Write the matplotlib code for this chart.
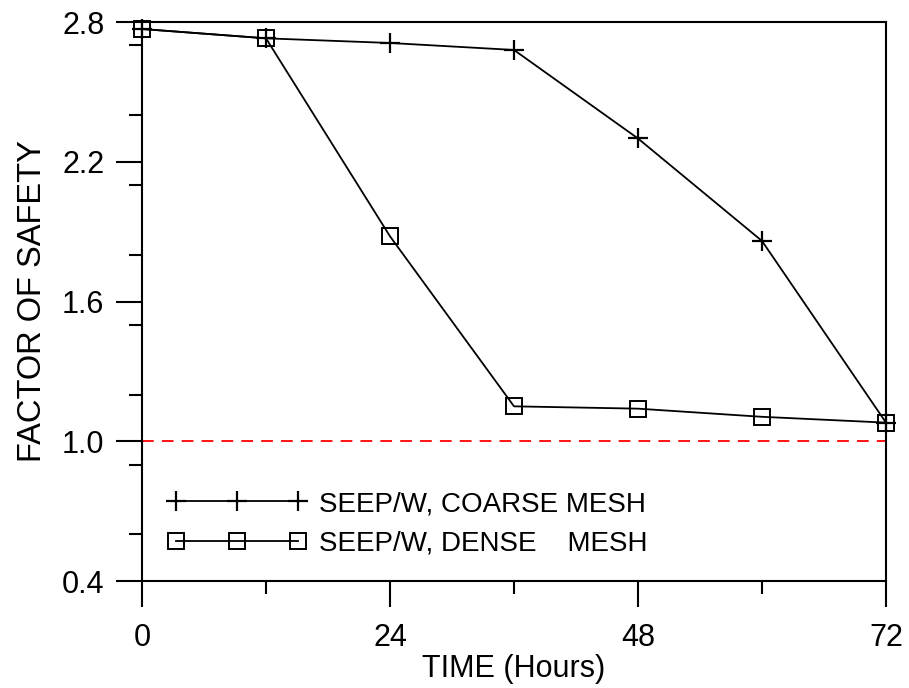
import matplotlib
matplotlib.use("Agg")
import matplotlib.pyplot as plt
from matplotlib.ticker import MultipleLocator

plt.rcParams['font.family'] = ['Liberation Sans', 'DejaVu Sans']

hours = [0, 12, 24, 36, 48, 60, 72]
fs_coarse = [2.77, 2.73, 2.71, 2.68, 2.30, 1.86, 1.08]
fs_dense = [2.77, 2.73, 1.88, 1.15, 1.14, 1.105, 1.08]
labels = ["SEEP/W, COARSE MESH", "SEEP/W, DENSE    MESH"]
xticks = [0, 24, 48, 72]
yticks = [0.4, 1.0, 1.6, 2.2, 2.8]

fig = plt.figure(figsize=(9.09, 6.88), dpi=100)
ax = fig.add_axes([0.1562, 0.1555, 0.8185, 0.8125])

ax.plot(hours, fs_coarse, color='black', lw=1.3, marker='+', ms=15, mew=1.6,
        clip_on=False, label=labels[0])
ax.plot(hours, fs_dense, color='black', lw=1.3, marker='s', ms=12, mew=1.4,
        mfc='none', clip_on=False, label=labels[1])
ax.axhline(1.0, color='red', lw=1.3, linestyle=(0, (6.5, 4.5)))

ax.set_xlim(0, 72)
ax.set_ylim(0.4, 2.8)
ax.set_xticks(xticks)
ax.set_yticks(yticks)
ax.set_yticklabels([f"{v:.1f}" for v in yticks])
ax.xaxis.set_minor_locator(MultipleLocator(12))
ax.yaxis.set_minor_locator(MultipleLocator(0.3))
ax.tick_params(which='major', direction='out', length=19, width=1.5)
ax.tick_params(which='minor', direction='out', length=9.5, width=1.5)
ax.tick_params(axis='x', which='major', pad=11, labelsize=22)
ax.tick_params(axis='y', which='major', pad=8, labelsize=22)
for sp in ax.spines.values():
    sp.set_linewidth(1.5)

ax.set_xlabel("TIME (Hours)", fontsize=22, labelpad=1)
ax.set_ylabel("FACTOR OF SAFETY", fontsize=23.5, labelpad=10)

ax.legend(loc='lower left', bbox_to_anchor=(0.034, 0.043), frameon=False,
          numpoints=3, handlelength=5.0, handletextpad=0.45, borderpad=0,
          borderaxespad=0, labelspacing=0.5, fontsize=20)

fig.savefig("out.png", dpi=100)
